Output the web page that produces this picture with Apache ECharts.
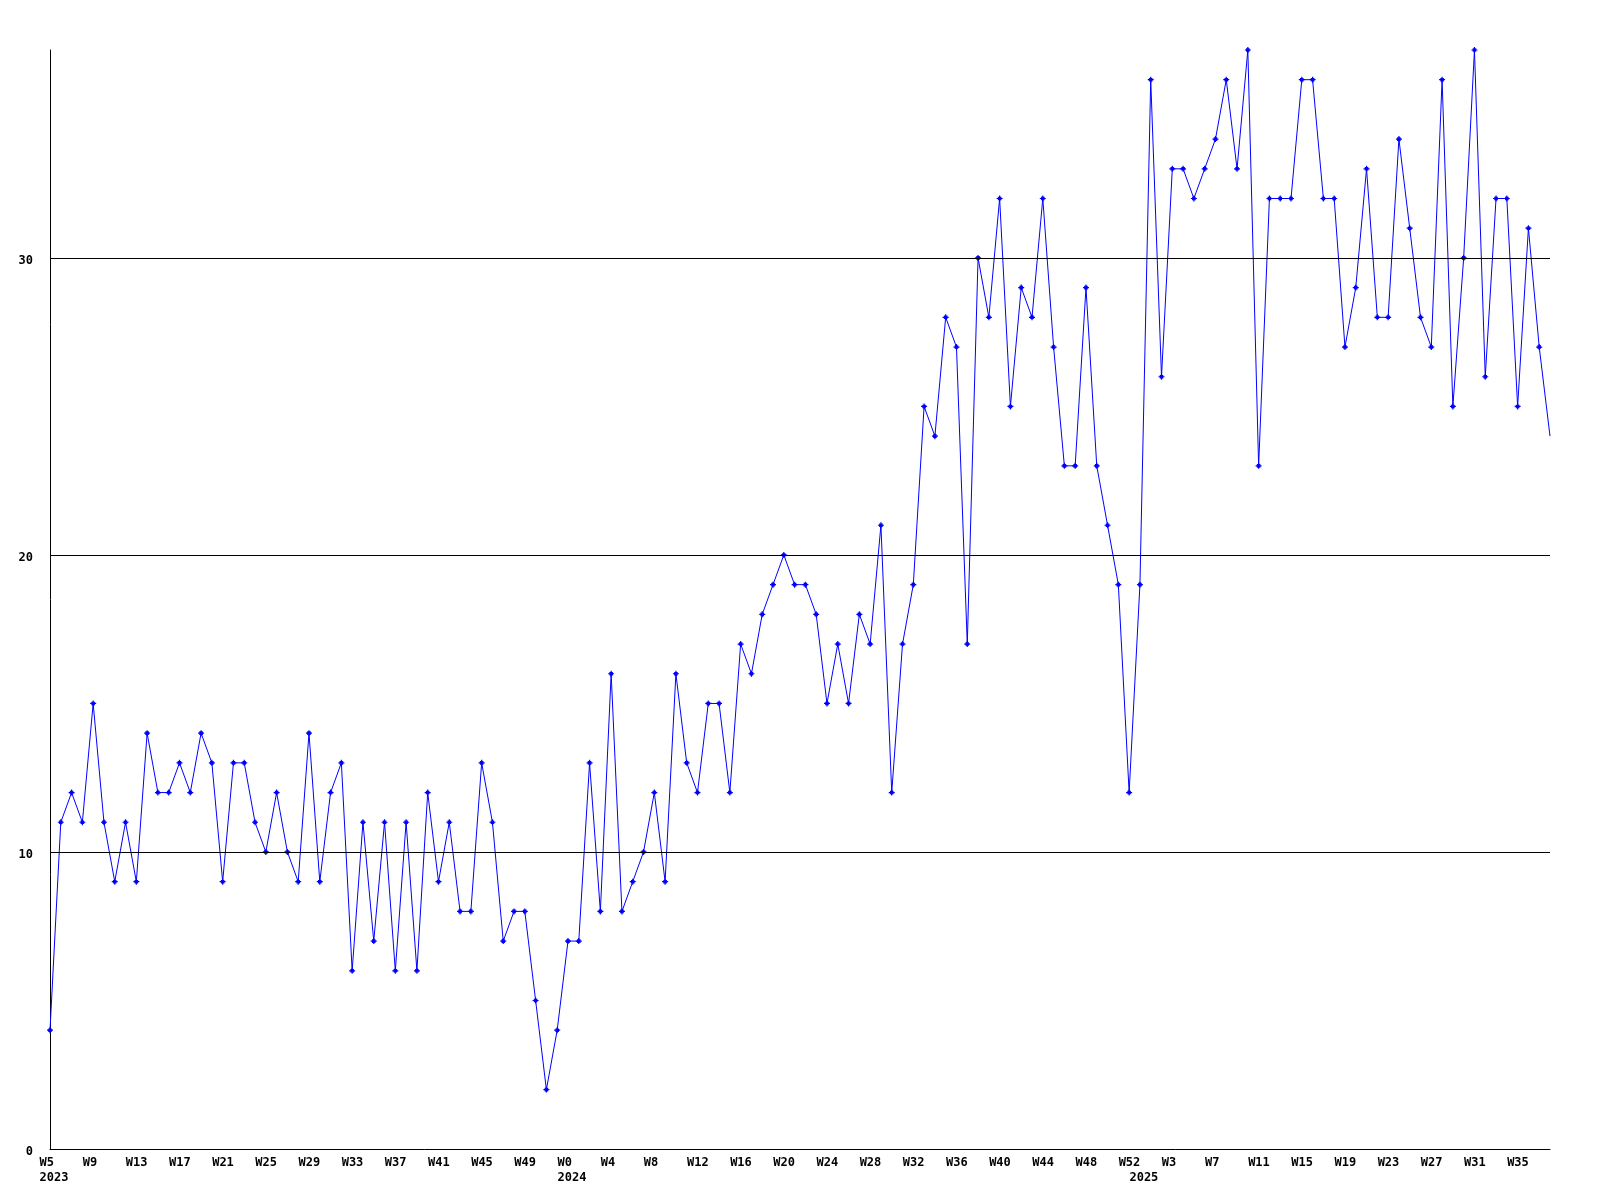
<!DOCTYPE html>
<html><head><meta charset="utf-8">
<script src="https://cdn.jsdelivr.net/npm/echarts@6/dist/echarts.min.js"></script>
<style>html,body{margin:0;padding:0;background:#fff}#chart{width:1600px;height:1200px}</style>
</head><body><div id="chart"></div>
<script>
// Years and first week number shown for each year
const years = [2023, 2024, 2025];
const firstWeeks = [5, 0, 0];

// Weekly values
const values2023 = [4,11,12,11,15,11,9,11,9,14,12,12,13,12,14,13,9,13,13,11,10,12,10,9,14,9,12,13,6,11,7,11,6,11,6,12,9,11,8,8,13,11,7,8,8,5,2,4];
const values2024 = [7,7,13,8,16,8,9,10,12,9,16,13,12,15,15,12,17,16,18,19,20,19,19,18,15,17,15,18,17,21,12,17,19,25,24,28,27,17,30,28,32,25,29,28,32,27,23,23,29,23,21,19,12];
const values2025 = [19,36,26,33,33,32,33,34,36,33,37,23,32,32,32,36,36,32,32,27,29,33,28,28,34,31,28,27,36,25,30,37,26,32,32,25,31,27,24];

// Y axis
const yTicks = [0, 10, 20, 30];
const yMax = 37;

const categories = [];
const values = [];
[values2023, values2024, values2025].forEach((arr, i) => {
  arr.forEach((v, j) => {
    categories.push(years[i] + '-W' + (firstWeeks[i] + j));
    values.push(v);
  });
});

function yearOf(idx) { return categories[idx].split('-')[0]; }
function isYearStart(idx) { return idx === 0 || yearOf(idx) !== yearOf(idx - 1); }

const seriesData = values.map((v, i) => i === values.length - 1 ? { value: v, symbol: 'none' } : v);

const FONT = 'DejaVu Sans Mono';
const labelText = { fontFamily: FONT, fontWeight: 'bold', fontSize: 12, lineHeight: 15, color: '#000', align: 'left' };
const chart = echarts.init(document.getElementById('chart'), null, { renderer: 'canvas' });
chart.setOption({
  animation: false,
  backgroundColor: '#ffffff',
  grid: { left: 50, right: 50, top: 50, bottom: 51, containLabel: false, outerBoundsMode: 'none' },
  xAxis: {
    type: 'category',
    data: categories,
    boundaryGap: false,
    axisLine: { show: true, lineStyle: { color: '#000', width: 1 } },
    axisTick: { show: false },
    splitLine: { show: false },
    axisLabel: {
      interval: (idx) => idx % 4 === 0 || isYearStart(idx),
      formatter: (val, idx) => {
        const parts = val.split('-');
        const y = parts[0], w = parts[1];
        const ys = isYearStart(idx);
        if (idx % 4 === 0) return ys ? ('{a|' + w + '}\n{a|' + y + '}') : ('{a|' + w + '}');
        return '{a| }\n{a|' + y + '}';
      },
      color: '#000',
      fontFamily: FONT,
      fontWeight: 'bold',
      fontSize: 12,
      lineHeight: 15,
      margin: 6,
      align: 'center',
      width: 21,
      overflow: 'none',
      rich: { a: labelText }
    }
  },
  yAxis: {
    type: 'value',
    min: 0,
    max: yMax,
    interval: 10,
    axisLine: { show: true, lineStyle: { color: '#000', width: 1 } },
    axisTick: { show: false },
    splitLine: { show: false },
    axisLabel: {
      showMaxLabel: false,
      formatter: (v) => yTicks.indexOf(v) >= 0 ? ('{b|' + v + '}') : '',
      color: '#000',
      fontFamily: FONT,
      fontWeight: 'bold',
      fontSize: 12,
      margin: 17,
      rich: { b: { fontFamily: FONT, fontWeight: 'bold', fontSize: 12, color: '#000', padding: [5, 0, 0, 0] } }
    }
  },
  series: [
    {
      type: 'line',
      data: [],
      z: 1,
      silent: true,
      markLine: {
        silent: true,
        symbol: ['none', 'none'],
        label: { show: false },
        lineStyle: { color: '#000', width: 1, type: 'solid' },
        data: yTicks.filter(t => t > 0).map(t => ({ yAxis: t }))
      }
    },
    {
      type: 'line',
      data: seriesData,
      z: 3,
      showAllSymbol: true,
      symbol: 'path://M2,0H3V1H4V2H5V3H4V4H3V5H2V4H1V3H0V2H1V1H2Z',
      symbolSize: 6,
      itemStyle: { color: '#0000ff' },
      lineStyle: { color: '#0000ff', width: 1 },
      emphasis: { disabled: true }
    }
  ]
});
</script>
</body></html>
